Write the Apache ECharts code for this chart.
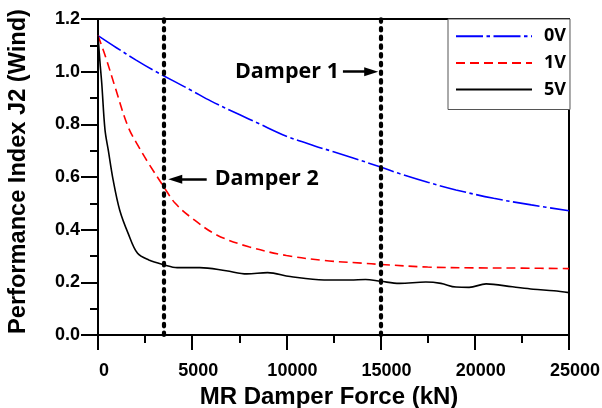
<!DOCTYPE html>
<html>
<head>
<meta charset="utf-8">
<script src="https://cdn.jsdelivr.net/npm/echarts@6/dist/echarts.min.js"></script>
<style>
  html, body { margin: 0; padding: 0; background: #fff; }
  #chart { width: 602px; height: 408px; }
</style>
</head>
<body>
<div id="chart"></div>
<script>
// Performance index J2 (wind) against MR damper force, for three voltages
const seriesNames = ['0V', '1V', '5V'];

const force0V = [0, 1000, 2000, 3000, 4000, 5000, 6000, 7500, 8500, 10000, 11500, 12500, 13500, 15000, 16000, 17500, 19000, 21000, 23000, 25000];
const j0V     = [1.137, 1.09, 1.045, 1.003, 0.965, 0.927, 0.888, 0.837, 0.804, 0.755, 0.718, 0.696, 0.673, 0.638, 0.613, 0.580, 0.551, 0.519, 0.494, 0.472];

const force1V = [0, 400, 900, 1600, 2200, 2700, 3500, 4100, 5000, 6300, 8000, 10000, 12000, 14000, 15000, 17500, 20000, 22500, 25000];
const j1V     = [1.137, 1.057, 0.943, 0.79, 0.71, 0.65, 0.562, 0.50, 0.443, 0.38, 0.335, 0.302, 0.283, 0.273, 0.268, 0.258, 0.255, 0.254, 0.252];

const force5V = [0, 100, 200, 370, 550, 800, 1150, 1600, 2100, 2700, 3500, 4200, 5400, 6800, 7900, 9000, 10200, 12000, 13400, 14200, 15000, 16000, 17400, 18200, 19000, 19700, 20600, 22000, 23100, 24200, 25000];
const j5V     = [1.137, 1.04, 0.955, 0.78, 0.70, 0.59, 0.475, 0.386, 0.31, 0.285, 0.267, 0.256, 0.256, 0.244, 0.232, 0.237, 0.222, 0.209, 0.209, 0.211, 0.204, 0.196, 0.201, 0.196, 0.182, 0.181, 0.194, 0.183, 0.174, 0.168, 0.161];

// Damper force positions (vertical dotted lines)
const damperForces = [3500, 15000];

// Annotation arrows: start and end as [force, J2]
const damper1Label = 'Damper 1';
const damper1Arrow = [[13000, 1.0], [14500, 1.0]];
const damper2Label = 'Damper 2';
const damper2Arrow = [[5770, 0.591], [4100, 0.591]];

const xTicks = { min: 0, max: 25000, step: 5000 };
const yTicks = { min: 0, max: 1.2, step: 0.2 };

const zip = (xs, ys) => xs.map((x, i) => [x, ys[i]]);

const tickFont = { fontFamily: 'Liberation Sans', fontWeight: 'bold', fontSize: 18, color: '#000' };
const titleFont = { fontFamily: 'Liberation Sans', fontWeight: 'bold', color: '#000' };
const noteFont = { fontFamily: 'Open Sans', fontWeight: 'bold', fontSize: 21.5, color: '#000' };

const chart = echarts.init(document.getElementById('chart'), null, { renderer: 'canvas' });

const arrowLine = (label, arrow, gap) => ({
  silent: true,
  symbol: ['none', 'triangle'],
  symbolSize: [9, 14],
  lineStyle: { color: '#000', width: 2.5, type: 'solid' },
  label: { show: true, position: 'start', formatter: label, distance: gap, ...noteFont },
  data: [[{ coord: arrow[0] }, { coord: arrow[1] }]]
});

const curve = (name, xs, ys, color, dash) => ({
  name, type: 'line', symbol: 'none', smooth: 0.35, z: 3,
  data: zip(xs, ys),
  lineStyle: { color, width: 1.6, type: dash },
  itemStyle: { color }
});

const option = {
  animation: false,
  backgroundColor: '#fff',
  grid: {
    left: 98, right: 33, top: 19, bottom: 73,
    outerBoundsMode: 'none', containLabel: false,
    show: true, borderColor: '#000', borderWidth: 2, backgroundColor: 'transparent'
  },
  legend: {
    data: seriesNames,
    orient: 'vertical',
    left: 448, top: 19,
    padding: [8.3, 4, 11, 7],
    itemWidth: 76, itemHeight: 14, itemGap: 8.6,
    itemStyle: { opacity: 0 },
    borderColor: '#555', borderWidth: 1, backgroundColor: '#fff',
    textStyle: { fontFamily: 'Open Sans', fontWeight: 'bold', fontSize: 18, color: '#000', padding: [0, 0, 0, 7] }
  },
  xAxis: {
    type: 'value',
    min: xTicks.min, max: xTicks.max, interval: xTicks.step,
    name: 'MR Damper Force (kN)',
    nameLocation: 'middle', nameGap: 50, nameMoveOverlap: false,
    nameTextStyle: { ...titleFont, fontSize: 24, padding: [0, 9, 0, 0] },
    axisLine: { onZero: false, lineStyle: { color: '#000', width: 2 } },
    axisTick: { show: true, inside: false, length: 15, lineStyle: { color: '#000', width: 2 } },
    minorTick: { show: true, splitNumber: 2, length: 8, lineStyle: { color: '#000', width: 2 } },
    splitLine: { show: false },
    axisLabel: { ...tickFont, margin: 27, padding: [0, 0, 0, 12], formatter: v => String(v) }
  },
  yAxis: {
    type: 'value',
    min: yTicks.min, max: yTicks.max, interval: yTicks.step,
    name: 'Performance Index J2 (Wind)',
    nameLocation: 'middle', nameGap: 68, nameMoveOverlap: false,
    nameTextStyle: { ...titleFont, fontSize: 23.6, padding: [0, 0, 0, 11] },
    axisLine: { onZero: false, lineStyle: { color: '#000', width: 2 } },
    axisTick: { show: true, inside: false, length: 17, lineStyle: { color: '#000', width: 2 } },
    minorTick: { show: true, splitNumber: 2, length: 8, lineStyle: { color: '#000', width: 2 } },
    splitLine: { show: false },
    axisLabel: { ...tickFont, margin: 18, formatter: v => v.toFixed(1) }
  },
  series: [
    curve(seriesNames[0], force0V, j0V, '#0000ff', [27, 3.5, 3.5, 3.5]),
    curve(seriesNames[1], force1V, j1V, '#ff0000', [9, 5]),
    Object.assign(curve(seriesNames[2], force5V, j5V, '#000', 'solid'), {
      markLine: {
        silent: true,
        symbol: ['none', 'none'],
        label: { show: false },
        lineStyle: { color: '#000', width: 4.2, type: [2.5, 6.2], cap: 'round' },
        data: damperForces.map(f => ({ xAxis: f }))
      }
    }),
    {
      name: damper1Label, type: 'line', data: [], z: 4,
      markLine: arrowLine(damper1Label, damper1Arrow, 4)
    },
    {
      name: damper2Label, type: 'line', data: [], z: 4,
      markLine: arrowLine(damper2Label, damper2Arrow, 8)
    }
  ]
};

chart.setOption(option);
</script>
</body>
</html>
